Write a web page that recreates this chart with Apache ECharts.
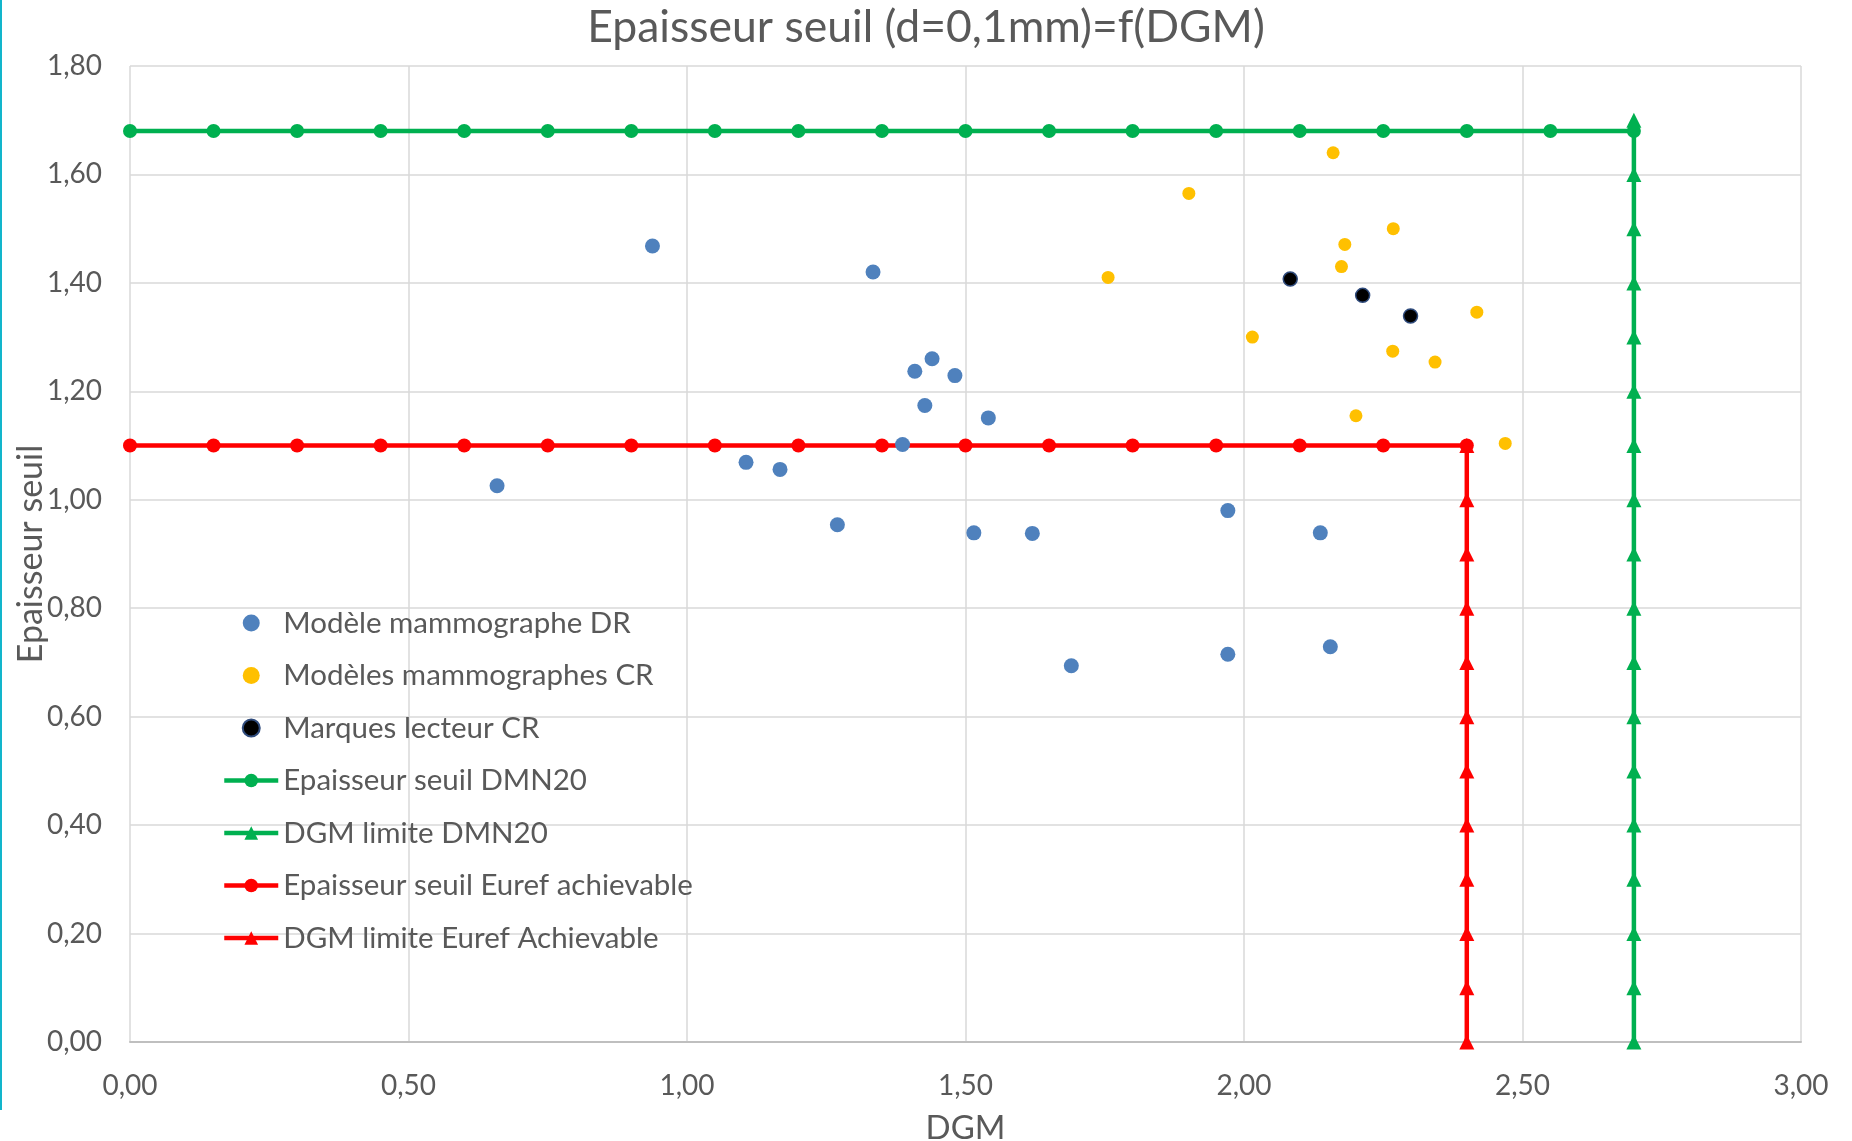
<!DOCTYPE html>
<html>
<head>
<meta charset="utf-8">
<script src="https://cdn.jsdelivr.net/npm/echarts@6/dist/echarts.min.js"></script>
<style>
html,body{margin:0;padding:0;background:#fff;}
#c{width:1852px;height:1141px;}
</style>
</head>
<body>
<div id="c"></div>
<script>
// ---- Data ----
const drPoints = [
  [0.659, 1.026], [0.938, 1.468], [1.334, 1.420], [1.106, 1.069], [1.167, 1.056],
  [1.270, 0.954], [1.409, 1.237], [1.440, 1.260], [1.481, 1.229], [1.427, 1.174],
  [1.541, 1.151], [1.387, 1.102], [1.515, 0.939], [1.620, 0.938], [1.971, 0.980],
  [2.137, 0.939], [1.690, 0.694], [1.971, 0.715], [2.155, 0.729]
];
const crPoints = [
  [2.160, 1.640], [1.901, 1.565], [2.268, 1.500], [2.181, 1.471], [2.175, 1.430],
  [1.756, 1.410], [2.418, 1.346], [2.015, 1.300], [2.267, 1.274], [2.343, 1.254],
  [2.201, 1.155], [2.469, 1.104]
];
const readerPoints = [
  [2.083, 1.407], [2.213, 1.377], [2.299, 1.339]
];
const dmnThicknessX = [0, 0.15, 0.30, 0.45, 0.60, 0.75, 0.90, 1.05, 1.20, 1.35, 1.50, 1.65, 1.80, 1.95, 2.10, 2.25, 2.40, 2.55, 2.70];
const dmnThicknessY = 1.68;
const dmnDgmX = 2.70;
const dmnDgmY = [0, 0.1, 0.2, 0.3, 0.4, 0.5, 0.6, 0.7, 0.8, 0.9, 1.0, 1.1, 1.2, 1.3, 1.4, 1.5, 1.6, 1.7];
const eurefThicknessX = [0, 0.15, 0.30, 0.45, 0.60, 0.75, 0.90, 1.05, 1.20, 1.35, 1.50, 1.65, 1.80, 1.95, 2.10, 2.25, 2.40];
const eurefThicknessY = 1.10;
const eurefDgmX = 2.40;
const eurefDgmY = [0, 0.1, 0.2, 0.3, 0.4, 0.5, 0.6, 0.7, 0.8, 0.9, 1.0, 1.1];

const seriesNames = [
  'Modèle mammographe DR',
  'Modèles mammographes CR',
  'Marques lecteur CR',
  'Epaisseur seuil DMN20',
  'DGM limite DMN20',
  'Epaisseur seuil Euref achievable',
  'DGM limite Euref Achievable'
];
const titleText = 'Epaisseur seuil (d=0,1mm)=f(DGM)';
const xName = 'DGM';
const yName = 'Epaisseur seuil';

// ---- Chart ----
const FONT = 'Lato';
const TXT = '#595959';
const GREEN = '#00b050';
const RED = '#ff0000';
const chart = echarts.init(document.getElementById('c'), null, {renderer: 'canvas'});
const fmt = v => v.toFixed(2).replace('.', ',');

const lineSeries = (name, data, color, symbol) => ({
  name, type: 'line', data, z: 2,
  symbol, symbolSize: symbol === 'triangle' ? 15 : 14,
  lineStyle: {color, width: 4.5},
  itemStyle: {color},
  emphasis: {disabled: true},
  animation: false
});

chart.setOption({
  animation: false,
  backgroundColor: '#fff',
  title: {
    text: titleText, left: 'center', top: 0,
    textStyle: {fontFamily: FONT, fontSize: 44.5, fontWeight: 'normal', color: TXT}
  },
  legend: {
    orient: 'vertical', left: 217, top: 602,
    itemWidth: 54, itemHeight: 17, itemGap: 20.5,
    lineStyle: {width: 4.5},
    textStyle: {fontFamily: FONT, fontSize: 29.5, color: TXT, lineHeight: 32},
    data: seriesNames.map(n => ({name: n, lineStyle: {width: 4.5}}))
  },
  grid: {left: 130, right: 51, top: 66, bottom: 99, containLabel: false, outerBoundsMode: 'none'},
  xAxis: {
    type: 'value', min: 0, max: 3, interval: 0.5,
    name: xName, nameLocation: 'middle', nameGap: 70,
    nameTextStyle: {fontFamily: FONT, fontSize: 33, color: TXT},
    axisLine: {show: true, lineStyle: {color: '#bfbfbf', width: 2}},
    axisTick: {show: false},
    axisLabel: {formatter: fmt, fontFamily: FONT, fontSize: 28, color: TXT, margin: 30},
    splitLine: {show: true, lineStyle: {color: '#d9d9d9', width: 1.5}}
  },
  yAxis: {
    type: 'value', min: 0, max: 1.8, interval: 0.2,
    name: yName, nameLocation: 'middle', nameGap: 82, nameRotate: 90,
    nameMoveOverlap: false,
    nameTextStyle: {fontFamily: FONT, fontSize: 34, color: TXT},
    axisLine: {show: false},
    axisTick: {show: false},
    axisLabel: {formatter: fmt, fontFamily: FONT, fontSize: 28, color: TXT, margin: 28},
    splitLine: {show: true, lineStyle: {color: '#d9d9d9', width: 1.5}}
  },
  series: [
    {name: seriesNames[0], type: 'scatter', data: drPoints, symbolSize: 15, z: 3,
     itemStyle: {color: '#4f81bd', opacity: 1}},
    {name: seriesNames[1], type: 'scatter', data: crPoints, symbolSize: 13, z: 3,
     itemStyle: {color: '#ffc000', opacity: 1}},
    {name: seriesNames[2], type: 'scatter', data: readerPoints, symbolSize: 14, z: 3,
     itemStyle: {color: '#000000', borderColor: '#2f4b7c', borderWidth: 1.5, opacity: 1}},
    lineSeries(seriesNames[3], dmnThicknessX.map(x => [x, dmnThicknessY]), GREEN, 'circle'),
    lineSeries(seriesNames[4], dmnDgmY.map(y => [dmnDgmX, y]), GREEN, 'triangle'),
    lineSeries(seriesNames[5], eurefThicknessX.map(x => [x, eurefThicknessY]), RED, 'circle'),
    lineSeries(seriesNames[6], eurefDgmY.map(y => [eurefDgmX, y]), RED, 'triangle')
  ],
  graphic: [{
    type: 'rect', left: 0, top: 0, shape: {width: 2, height: 1110},
    style: {fill: '#12b5cb'}, silent: true
  }]
});
</script>
</body>
</html>
